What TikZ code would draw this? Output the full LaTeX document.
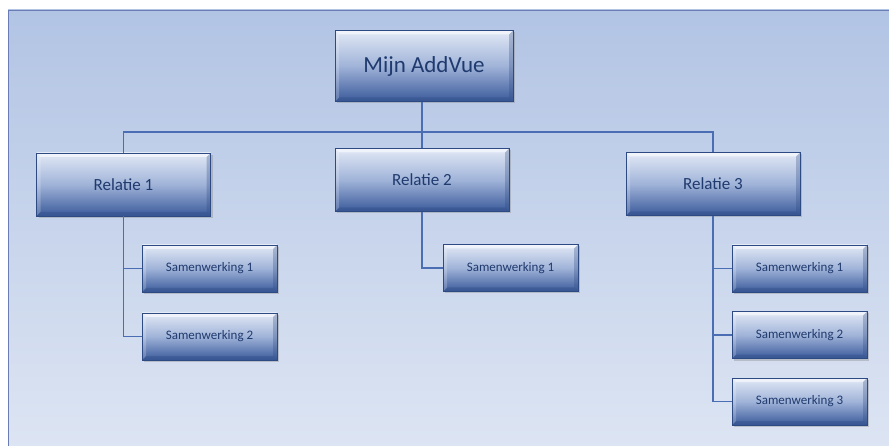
\documentclass[tikz,border=0pt]{standalone}
\usepackage{fontspec}
\setmainfont{Carlito}
\usetikzlibrary{shadows}
\definecolor{bgtop}{HTML}{B2C4E4}
\definecolor{bgbot}{HTML}{DDE5F3}
\definecolor{frame}{HTML}{6A7BB6}
\definecolor{btop}{HTML}{E2E9F6}
\definecolor{bmid}{HTML}{A0B3D8}
\definecolor{bbot}{HTML}{3A5A9B}
\definecolor{bedge}{HTML}{2E4A82}
\definecolor{txt}{HTML}{1F3A6E}
\definecolor{conn}{HTML}{4A6DB3}
\tikzset{
  box/.style={draw=bedge, line width=0.8pt, top color=btop, bottom color=bbot, middle color=bmid,
    text=txt, inner sep=0pt,
    drop shadow={opacity=0.35, shadow xshift=2pt, shadow yshift=-2pt},
    path picture={
      \fill[white,opacity=0.55] (path picture bounding box.north west) -- (path picture bounding box.north east)
        -- ([xshift=-\bev,yshift=-\bev]path picture bounding box.north east) -- ([xshift=\bev,yshift=-\bev]path picture bounding box.north west) -- cycle;
      \fill[bedge,opacity=0.35] (path picture bounding box.south west) -- (path picture bounding box.south east)
        -- ([xshift=-\bev,yshift=\bev]path picture bounding box.south east) -- ([xshift=\bev,yshift=\bev]path picture bounding box.south west) -- cycle;
      \fill[bedge,opacity=0.3] (path picture bounding box.north east) -- (path picture bounding box.south east)
        -- ([xshift=-\bev,yshift=\bev]path picture bounding box.south east) -- ([xshift=-\bev,yshift=-\bev]path picture bounding box.north east) -- cycle;
      \fill[white,opacity=0.2] (path picture bounding box.north west) -- (path picture bounding box.south west)
        -- ([xshift=\bev,yshift=\bev]path picture bounding box.south west) -- ([xshift=\bev,yshift=-\bev]path picture bounding box.north west) -- cycle;
    }},
  rootbox/.style={box, minimum width=178pt, minimum height=71pt, font=\fontsize{23}{27}\selectfont},
  relbox/.style={box, minimum width=174pt, minimum height=63pt, font=\fontsize{17}{20}\selectfont},
  subbox/.style={box, minimum width=135pt, minimum height=47pt, font=\fontsize{13}{15}\selectfont},
  link/.style={draw=conn, line width=1.1pt},
}
\newcommand\bev{4pt}
\begin{document}
\begin{tikzpicture}[x=1pt,y=-1pt]
\useasboundingbox (0,0) rectangle (889,446);
\fill[white] (0,0) rectangle (889,446);
\shade[top color=bgtop, bottom color=bgbot] (8,10) rectangle (892,450);
\draw[frame, line width=0.8pt] (8,450) -- (8,10) -- (892,10);

\node[rootbox] (top) at (424,66) {Mijn AddVue};
\node[relbox] (r1) at (123.5,184.5) {Relatie 1};
\node[relbox] (r2) at (422,180) {Relatie 2};
\node[relbox] (r3) at (713,184) {Relatie 3};
\node[subbox] (s11) at (209.5,268.5) {Samenwerking 1};
\node[subbox] (s12) at (209.5,336.5) {Samenwerking 2};
\node[subbox] (s21) at (510.5,268) {Samenwerking 1};
\node[subbox] (s31) at (799.5,268.5) {Samenwerking 1};
\node[subbox] (s32) at (799.5,335) {Samenwerking 2};
\node[subbox] (s33) at (799.5,401.5) {Samenwerking 3};

\coordinate (b1) at (123.5,132);
\coordinate (b3) at (713,132);
\coordinate (b2) at (422,132);

\draw[link] (r1.north) -- (b1) -- (b3) -- (r3.north);
\draw[link] (top.south -| b2) -- (b2) -- (r2.north);
\draw[link] (r1.south) |- (s11.west);
\draw[link] (r1.south) |- (s12.west);
\draw[link] (r2.south) |- (s21.west);
\draw[link] (r3.south) |- (s31.west);
\draw[link] (r3.south) |- (s32.west);
\draw[link] (r3.south) |- (s33.west);
\end{tikzpicture}
\end{document}
